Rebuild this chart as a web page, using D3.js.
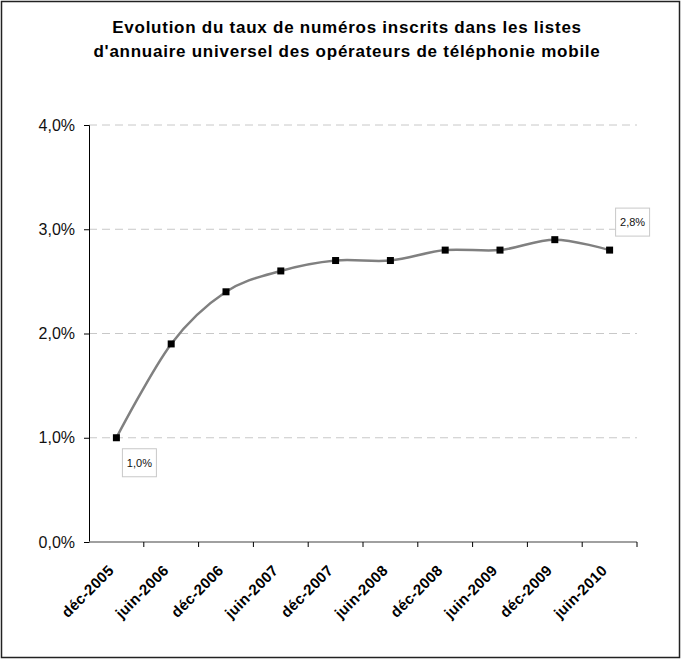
<!DOCTYPE html>
<html>
<head>
<meta charset="utf-8">
<script src="https://cdn.jsdelivr.net/npm/d3@7"></script>
<style>
    body { margin: 0; background: #fff; }
    svg text { font-family: "Liberation Sans", Arial, sans-serif; }
</style>
</head>
<body>
<svg id="chart" width="685" height="661"></svg>
<script>
// chart data
const titleLines = [
    "Evolution du taux de numéros inscrits dans les listes",
    "d'annuaire universel des opérateurs de téléphonie mobile"
];
const periods = ["déc-2005", "juin-2006", "déc-2006", "juin-2007", "déc-2007",
    "juin-2008", "déc-2008", "juin-2009", "déc-2009", "juin-2010"];
const rates = [1.0, 1.9, 2.4, 2.6, 2.7, 2.7, 2.8, 2.8, 2.9, 2.8];
const yTicks = [0, 1, 2, 3, 4];
const labelled = [0, 9]; // indices with a value label

const svg = d3.select("#chart");

const margin = {left: 89, right: 48, top: 125, bottom: 119};
const width = 685 - margin.left - margin.right;
const height = 661 - margin.top - margin.bottom;

const fmt = d => d.toFixed(1).replace(".", ",") + "%";

// outer frame
svg.append("rect")
    .attr("x", 1.5).attr("y", 1.5)
    .attr("width", 678).attr("height", 656)
    .attr("fill", "#fff")
    .attr("stroke", "#222")
    .attr("stroke-width", 1.5);

// title
svg.append("g").selectAll("text")
    .data(titleLines)
    .enter().append("text")
    .attr("x", 347)
    .attr("y", (d, i) => 33 + i * 24)
    .attr("text-anchor", "middle")
    .style("font-size", "17px")
    .style("font-weight", "bold")
    .style("letter-spacing", "0.75px")
    .text(d => d);

const g = svg.append("g")
    .attr("transform", "translate(" + margin.left + "," + margin.top + ")");

let x = d3.scaleBand()
    .domain(periods)
    .range([0, width]);

let y = d3.scaleLinear()
    .domain([0, 4])
    .range([height, 0]);

// gridlines
g.append("g").selectAll("line")
    .data(yTicks.filter(d => d > 0))
    .enter().append("line")
    .attr("x1", 0).attr("x2", width)
    .attr("y1", d => y(d)).attr("y2", d => y(d))
    .attr("stroke", "#c8c8c8")
    .attr("stroke-dasharray", "8,5");

// y axis
let yAxis = g.append("g")
    .call(d3.axisLeft(y).tickValues(yTicks).tickFormat(fmt).tickSize(5).tickPadding(9));
yAxis.select(".domain").attr("stroke", "#000");
yAxis.selectAll(".tick line").attr("stroke", "#000");
yAxis.selectAll("text")
    .style("font-size", "16px")
    .attr("fill", "#111");

// x axis: ticks at category boundaries
let xAxis = g.append("g")
    .attr("transform", "translate(0," + height + ")");
xAxis.append("line")
    .attr("x1", 0).attr("x2", width)
    .attr("stroke", "#808080").attr("stroke-width", 1.5);
xAxis.selectAll(".tk")
    .data(periods)
    .enter().append("line")
    .attr("class", "tk")
    .attr("x1", d => x(d) + x.bandwidth())
    .attr("x2", d => x(d) + x.bandwidth())
    .attr("y1", 0).attr("y2", 5)
    .attr("stroke", "#000");
xAxis.selectAll("text")
    .data(periods)
    .enter().append("text")
    .attr("transform", d => "translate(" + (x(d) + x.bandwidth() / 2 - 9) + ",22) rotate(-45)")
    .attr("text-anchor", "end")
    .attr("dy", "0.7em")
    .style("font-size", "15px")
    .style("font-weight", "bold")
    .style("letter-spacing", "0.3px")
    .text(d => d);

// smoothed line
let line = d3.line()
    .x((d, i) => x(periods[i]) + x.bandwidth() / 2)
    .y(d => y(d))
    .curve(d3.curveCatmullRom.alpha(0));

g.append("path")
    .datum(rates)
    .attr("d", line)
    .attr("fill", "none")
    .attr("stroke", "#808080")
    .attr("stroke-width", 2.5);

// markers
g.append("g").selectAll("rect")
    .data(rates)
    .enter().append("rect")
    .attr("x", (d, i) => x(periods[i]) + x.bandwidth() / 2 - 3.5)
    .attr("y", d => y(d) - 3.5)
    .attr("width", 7).attr("height", 7)
    .attr("fill", "#000");

// value labels
let lab = g.append("g").selectAll("g")
    .data(labelled)
    .enter().append("g")
    .attr("transform", i => "translate(" + (x(periods[i]) + x.bandwidth() / 2 + 6) + "," +
        (y(rates[i]) + (i === 0 ? 11 : -42)) + ")");
lab.append("rect")
    .attr("width", 34).attr("height", 28)
    .attr("fill", "#fff")
    .attr("stroke", "#c8c8c8");
lab.append("text")
    .attr("x", 17).attr("y", 18)
    .attr("text-anchor", "middle")
    .style("font-size", "11px")
    .attr("fill", "#111")
    .text(i => fmt(rates[i]));
</script>
</body>
</html>
